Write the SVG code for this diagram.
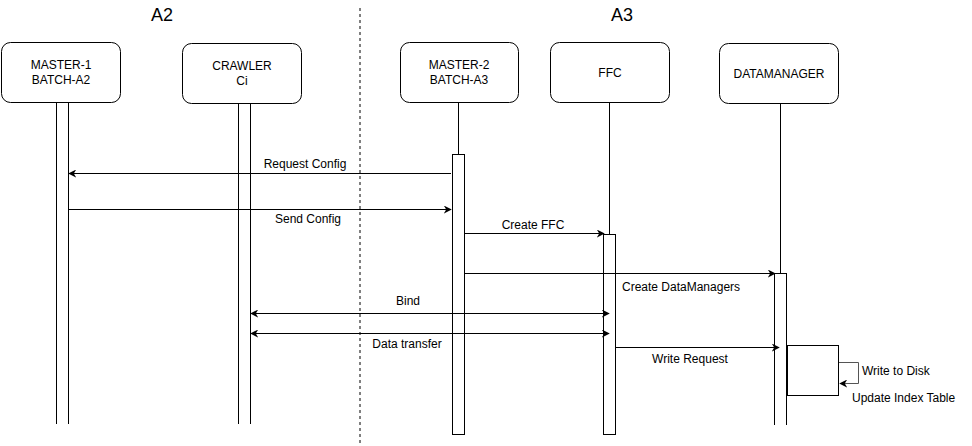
<svg xmlns="http://www.w3.org/2000/svg" width="972" height="446" viewBox="0 0 972 446">
<style>
text{font-family:"Liberation Sans",Arial,sans-serif;font-size:12px;fill:#000}
.h{font-size:18px}
.box{fill:#fff;stroke:#000;stroke-width:1}
.ln{stroke:#000;stroke-width:1;fill:none}
.act{fill:#fff;stroke:#000;stroke-width:1}
.msg{stroke:#000;stroke-width:1;fill:none}
</style>
<defs>
<marker id="ah" viewBox="0 0 10 10" refX="9" refY="5" markerWidth="8" markerHeight="8" orient="auto-start-reverse" markerUnits="userSpaceOnUse">
<path d="M0,0 L10,5 L0,10 L3,5 Z" fill="#000"/>
</marker>
</defs>
<rect width="972" height="446" fill="#fff"/>
<text class="h" x="162" y="21" text-anchor="middle">A2</text>
<text class="h" x="622" y="21" text-anchor="middle">A3</text>
<line x1="360" y1="8" x2="360" y2="446" stroke="#000" stroke-dasharray="3,3"/>

<g id="master1">
<rect class="box" x="1.5" y="42.5" width="119" height="60" rx="9"/>
<text x="61" y="69" text-anchor="middle">MASTER-1</text>
<text x="61" y="84" text-anchor="middle">BATCH-A2</text>
<line class="ln" x1="56.5" y1="102" x2="56.5" y2="424"/>
<line class="ln" x1="68.5" y1="102" x2="68.5" y2="424"/>
</g>
<g id="crawler">
<rect class="box" x="182.5" y="43.5" width="119" height="60" rx="9"/>
<text x="242" y="70" text-anchor="middle">CRAWLER</text>
<text x="242" y="85" text-anchor="middle">Ci</text>
<line class="ln" x1="238.5" y1="103" x2="238.5" y2="424"/>
<line class="ln" x1="250.5" y1="103" x2="250.5" y2="424"/>
</g>
<g id="master2">
<rect class="box" x="400.5" y="42.5" width="118" height="60" rx="9"/>
<text x="459" y="69" text-anchor="middle">MASTER-2</text>
<text x="459" y="84" text-anchor="middle">BATCH-A3</text>
<line class="ln" x1="458.5" y1="102" x2="458.5" y2="154"/>
<rect class="act" x="452.5" y="154.5" width="12" height="280"/>
</g>
<g id="ffc">
<rect class="box" x="550.5" y="42.5" width="119" height="60" rx="9"/>
<text x="610" y="77" text-anchor="middle">FFC</text>
<line class="ln" x1="609.5" y1="102" x2="609.5" y2="234"/>
<rect class="act" x="603.5" y="234.5" width="12" height="200"/>
</g>
<g id="datamanager">
<rect class="box" x="719.5" y="43.5" width="119" height="60" rx="9"/>
<text x="779" y="78" text-anchor="middle">DATAMANAGER</text>
<line class="ln" x1="780.5" y1="103" x2="780.5" y2="273"/>
<line class="ln" x1="774.5" y1="273.5" x2="786.5" y2="273.5"/>
<line class="ln" x1="774.5" y1="273" x2="774.5" y2="425"/>
<line class="ln" x1="786.5" y1="273" x2="786.5" y2="425"/>
</g>
<g id="diskbox">
<rect class="box" x="787.5" y="345.5" width="51" height="50"/>
</g>

<g id="connectors">
<line class="msg" x1="451" y1="173.5" x2="69" y2="173.5" marker-end="url(#ah)"/>
<line class="msg" x1="69" y1="209.5" x2="451" y2="209.5" marker-end="url(#ah)"/>
<line class="msg" x1="465" y1="233.5" x2="604" y2="233.5" marker-end="url(#ah)"/>
<line class="msg" x1="465" y1="273.5" x2="775" y2="273.5" marker-end="url(#ah)"/>
<line class="msg" x1="251" y1="313.5" x2="609" y2="313.5" marker-start="url(#ah)" marker-end="url(#ah)"/>
<line class="msg" x1="251" y1="333.5" x2="609" y2="333.5" marker-start="url(#ah)" marker-end="url(#ah)"/>
<line class="msg" x1="616" y1="347.5" x2="779" y2="347.5" marker-end="url(#ah)"/>
<path d="M839,362.5 H858.5 V383.5 H840" stroke="#555" stroke-width="1" fill="none" marker-end="url(#ah)"/>
</g>

<g id="labels">
<text x="305" y="168" text-anchor="middle">Request Config</text>
<text x="308" y="223" text-anchor="middle">Send Config</text>
<text x="533" y="229" text-anchor="middle">Create FFC</text>
<text x="622" y="291">Create DataManagers</text>
<text x="408" y="305" text-anchor="middle">Bind</text>
<text x="407" y="348" text-anchor="middle">Data transfer</text>
<text x="690" y="363" text-anchor="middle">Write Request</text>
<text x="862" y="375">Write to Disk</text>
<text x="852" y="402">Update Index Table</text>
</g>
</svg>
